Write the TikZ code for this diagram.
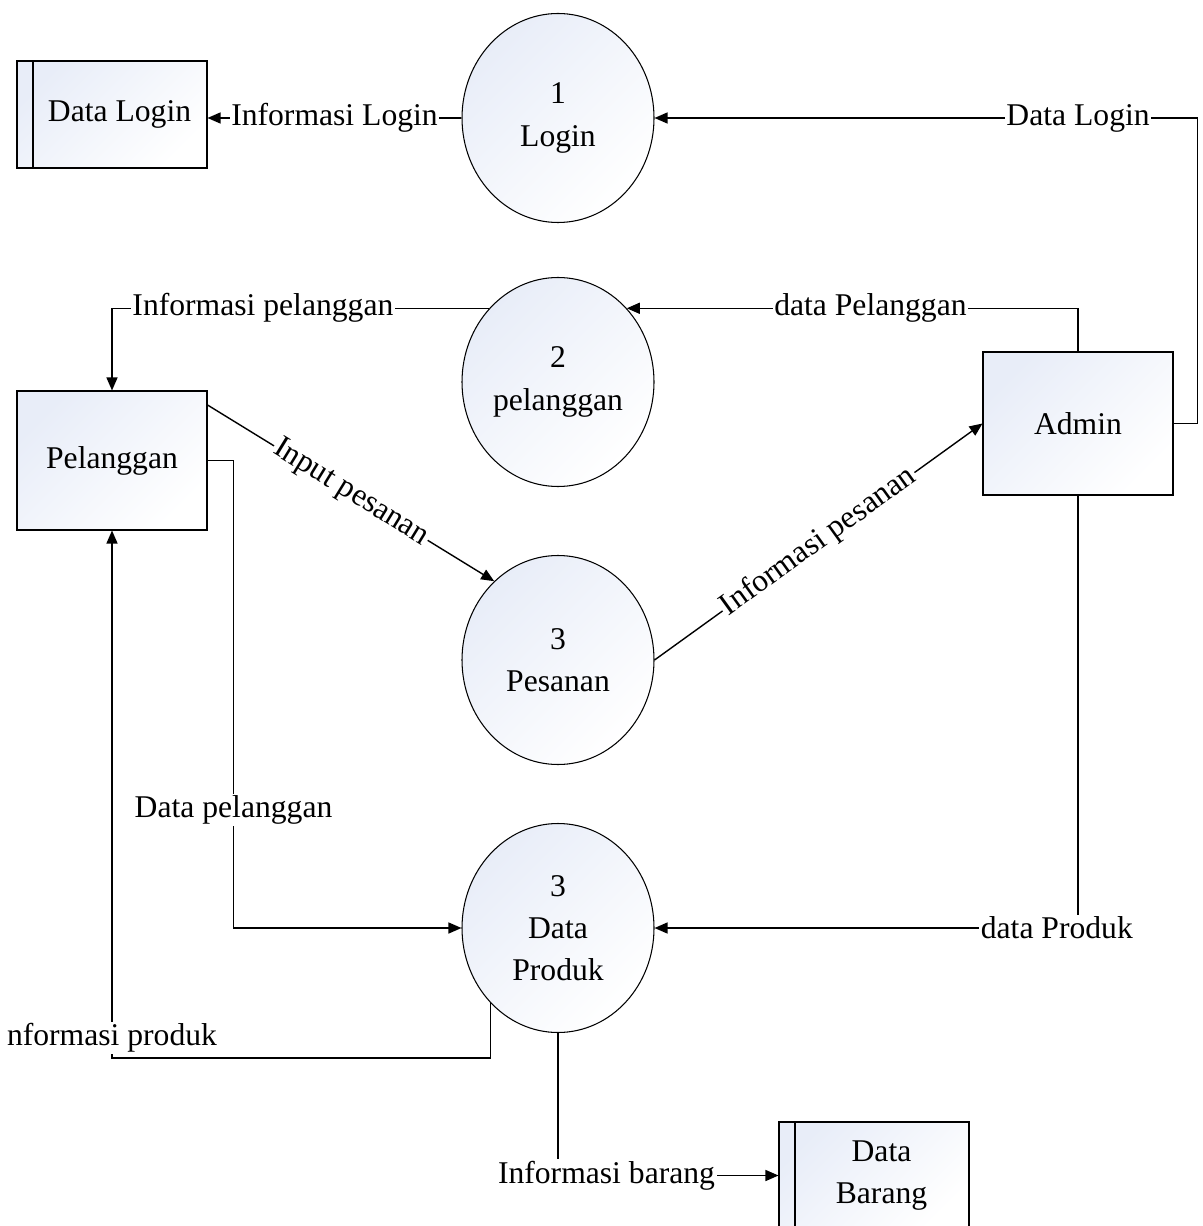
\documentclass[tikz,border=0pt]{standalone}
\usepackage{fontspec}
\setmainfont{Liberation Serif}
\usetikzlibrary{shapes.geometric,arrows.meta}
\definecolor{fillblue}{RGB}{232,237,248}

\begin{document}
\begin{tikzpicture}[
    font=\fontsize{18}{24}\selectfont,
    entity/.style={rectangle, draw, line width=0.6pt, minimum width=3.8cm, align=center,
        top color=fillblue, bottom color=white, shading angle=45},
    proc/.style={ellipse, draw, line width=0.6pt, minimum width=3.84cm, minimum height=4.18cm,
        inner sep=0pt, align=center, top color=fillblue, bottom color=white, shading angle=45},
    store/.style={entity, minimum height=2.14cm,
        path picture={\draw[line width=0.6pt] ([xshift=0.32cm]path picture bounding box.north west)
            -- ([xshift=0.32cm]path picture bounding box.south west);}},
    flow/.style={draw, line width=0.8pt, -{Triangle[length=2.6mm,width=2.2mm]}},
    lbl/.style={fill=white, inner sep=1pt}
]
    \useasboundingbox (0,0) rectangle (24.04,-24.52);

    \node[store] (login) at (2.24,-2.29) {\hspace{0.3cm}Data Login};
    \node[store] (barang) at (17.48,-23.51) {\hspace{0.3cm}Data\\\hspace{0.3cm}Barang};
    \node[entity, minimum height=2.78cm] (pelanggan) at (2.24,-9.21) {Pelanggan};
    \node[entity, minimum height=2.86cm] (admin) at (21.56,-8.47) {Admin};

    \node[proc] (p1) at (11.16,-2.36) {1\\Login};
    \node[proc] (p2) at (11.16,-7.64) {2\\pelanggan};
    \node[proc] (p3) at (11.16,-13.2) {3\\Pesanan};
    \node[proc] (p4) at (11.16,-18.56) {3\\Data\\Produk};

    \draw[flow] (p1.west) -- node[lbl] {Informasi Login} (p1.west -| login.east);
    \draw[flow] (admin.east) -- ++(0.48,0) |- node[lbl, pos=0.61] {Data Login} (p1.east);
    \draw[flow] (admin.north) |- node[lbl, pos=0.73] {data Pelanggan} (p2.47);
    \draw[flow] (p2.133) -| node[lbl, pos=0.3] {Informasi pelanggan} (pelanggan.north);
    \draw[flow] ([yshift=1.11cm]pelanggan.east) -- node[lbl, sloped] {Input pesanan} (p3.129);
    \draw[flow] (p3.east) -- node[lbl, sloped] {Informasi pesanan} (admin.west);
    \draw[flow] (pelanggan.east) -- ++(0.52,0) |- node[lbl, pos=0.374] {Data pelanggan} (p4.west);
    \draw[flow] (admin.south) |- node[lbl, pos=0.525] {data Produk} (p4.east);
    \draw[flow] (p4.228) -- ++(0,-1.1) -| node[lbl, pos=0.519] {nformasi produk} (pelanggan.south);
    \draw[flow] (p4.south) |- node[lbl, pos=0.61] {Informasi barang} (barang.west);
\end{tikzpicture}
\end{document}
